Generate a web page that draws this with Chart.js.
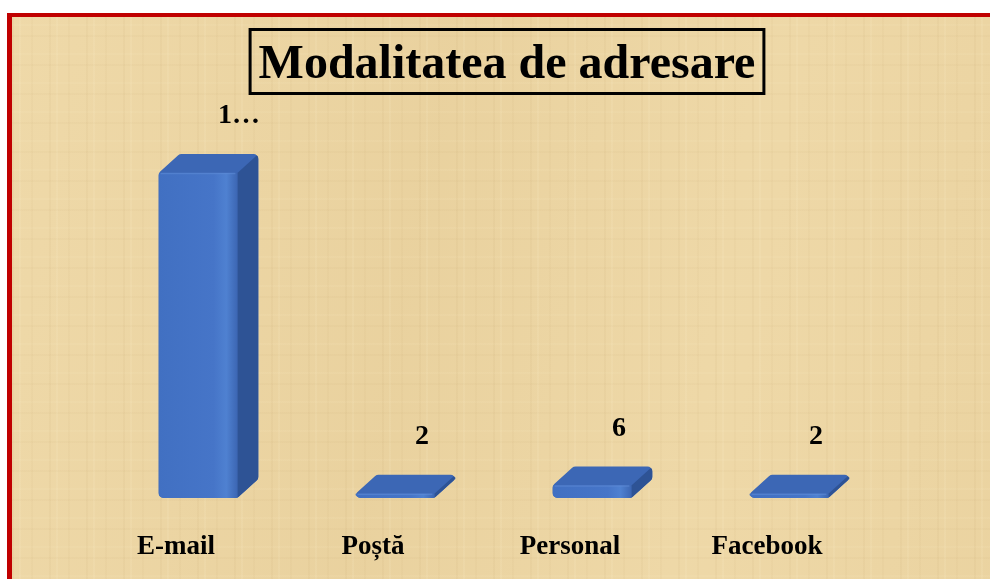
<!DOCTYPE html>
<html>
<head>
<meta charset="utf-8">
<script src="https://cdn.jsdelivr.net/npm/chart.js@4/dist/chart.umd.min.js"></script>
<style>
  html, body { margin: 0; padding: 0; background: #ffffff; width: 990px; height: 579px; overflow: hidden; }
  #panel {
    position: absolute; left: 7px; top: 13px; width: 1000px; height: 600px;
    border-top: 4px solid #C00000; border-left: 5px solid #C00000;
    background-color: #ECD5A3;
    background-image:
      repeating-linear-gradient(90deg, rgba(150,110,50,0.045) 0 2px, transparent 2px 7px, rgba(255,246,214,0.10) 7px 9px, transparent 9px 19px, rgba(160,120,60,0.035) 19px 21px, transparent 21px 37px),
      repeating-linear-gradient(0deg, rgba(150,110,50,0.03) 0 2px, transparent 2px 11px, rgba(255,242,205,0.08) 11px 13px, transparent 13px 29px),
      linear-gradient(100deg, rgba(255,240,200,0.15), rgba(210,180,120,0.10) 40%, rgba(255,240,200,0.12) 70%, rgba(215,185,125,0.08));
  }
  #c { position: absolute; left: 0; top: 0; }
</style>
</head>
<body>
<div id="panel"></div>
<canvas id="c" width="990" height="579"></canvas>
<script>
// ---- data ----
const titleText = "Modalitatea de adresare";
const categories = ["E-mail", "Poștă", "Personal", "Facebook"];
const values = [155, 2, 6, 2];
const valueLabels = ["1…", "2", "6", "2"];

const FONT = "'Liberation Serif', 'Times New Roman', serif";
const DX = 21, DY = 19;

const titleBox = {
  id: 'titleBox',
  afterDraw(chart) {
    const ctx = chart.ctx;
    ctx.save();
    ctx.font = "bold 48px " + FONT;
    ctx.textAlign = "center";
    ctx.textBaseline = "alphabetic";
    ctx.fillStyle = "#000";
    const cx = 507, base = 78;
    const w = ctx.measureText(titleText).width;
    ctx.fillText(titleText, cx, base);
    ctx.lineWidth = 3;
    ctx.strokeStyle = "#000";
    ctx.strokeRect(cx - w / 2 - 8.5, 29.5, w + 17, 64);
    ctx.restore();
  }
};

function roundPoly(ctx, pts, r) {
  ctx.beginPath();
  const n = pts.length;
  for (let i = 0; i < n; i++) {
    const p0 = pts[(i - 1 + n) % n], p1 = pts[i], p2 = pts[(i + 1) % n];
    const a = { x: (p0.x + p1.x) / 2, y: (p0.y + p1.y) / 2 };
    if (i === 0) ctx.moveTo(a.x, a.y);
    ctx.arcTo(p1.x, p1.y, (p1.x + p2.x) / 2, (p1.y + p2.y) / 2, r);
  }
  ctx.closePath();
}

function frontGradient(ctx, l, r) {
  const g = ctx.createLinearGradient(l, 0, r, 0);
  g.addColorStop(0, "#4170C2");
  g.addColorStop(0.7, "#4675C8");
  g.addColorStop(0.86, "#4F81D1");
  g.addColorStop(1, "#3C66B3");
  return g;
}

const bars3d = {
  id: 'bars3d',
  afterDatasetsDraw(chart) {
    const ctx = chart.ctx;
    const meta = chart.getDatasetMeta(0);
    meta.data.forEach((el, i) => {
      const p = el.getProps(['x', 'y', 'base', 'width'], true);
      if (![p.x, p.y, p.base, p.width].every(Number.isFinite)) return;
      const l = p.x - p.width / 2, r = p.x + p.width / 2;
      ctx.save();
      // whole silhouette, rounded, in top colour
      roundPoly(ctx, [
        { x: l, y: p.base }, { x: r, y: p.base }, { x: r + DX, y: p.base - DY },
        { x: r + DX, y: p.y - DY }, { x: l + DX, y: p.y - DY }, { x: l, y: p.y }
      ], 5);
      ctx.fillStyle = "#3C67B5";
      ctx.fill();
      ctx.clip();
      // side face
      ctx.beginPath();
      ctx.moveTo(r, p.y);
      ctx.lineTo(r + DX, p.y - DY);
      ctx.lineTo(r + DX, p.base - DY);
      ctx.lineTo(r, p.base);
      ctx.closePath();
      ctx.fillStyle = "#2E5395";
      ctx.fill();
      // front face
      ctx.fillStyle = frontGradient(ctx, l, r);
      ctx.fillRect(l, p.y, r - l, p.base - p.y);
      // soft edge between top and front
      ctx.strokeStyle = "rgba(95,140,215,0.55)";
      ctx.lineWidth = 1.5;
      ctx.beginPath();
      ctx.moveTo(l + 2, p.y + 0.5);
      ctx.lineTo(r - 2, p.y + 0.5);
      ctx.stroke();
      ctx.restore();
    });
    ctx.save();
    ctx.font = "bold 28px " + FONT;
    ctx.fillStyle = "#000";
    ctx.textAlign = "left";
    ctx.textBaseline = "middle";
    meta.data.forEach((el, i) => {
      const p = el.getProps(['x', 'y'], true);
      ctx.fillText(valueLabels[i], p.x + 20, p.y - 57);
    });
    ctx.restore();
  }
};

const ctx = document.getElementById('c').getContext('2d');
new Chart(ctx, {
  type: 'bar',
  data: {
    labels: categories,
    datasets: [{
      data: values,
      backgroundColor: "rgba(0,0,0,0)",
      borderWidth: 0,
      barPercentage: 0.8,
      categoryPercentage: 0.5
    }]
  },
  options: {
    responsive: false,
    animation: false,
    devicePixelRatio: 1,
    layout: { padding: { left: 99.5, right: 102.5, top: 131, bottom: -17.4 } },
    plugins: { legend: { display: false }, title: { display: false }, tooltip: { enabled: false } },
    scales: {
      x: {
        grid: { display: false, drawTicks: false },
        border: { display: false },
        ticks: {
          color: "#000",
          font: { family: FONT, size: 27, weight: 'bold' },
          padding: 33,
          labelOffset: -22,
          maxRotation: 0
        }
      },
      y: {
        display: false,
        min: 0,
        max: 175
      }
    }
  },
  plugins: [bars3d, titleBox]
});
</script>
</body>
</html>
